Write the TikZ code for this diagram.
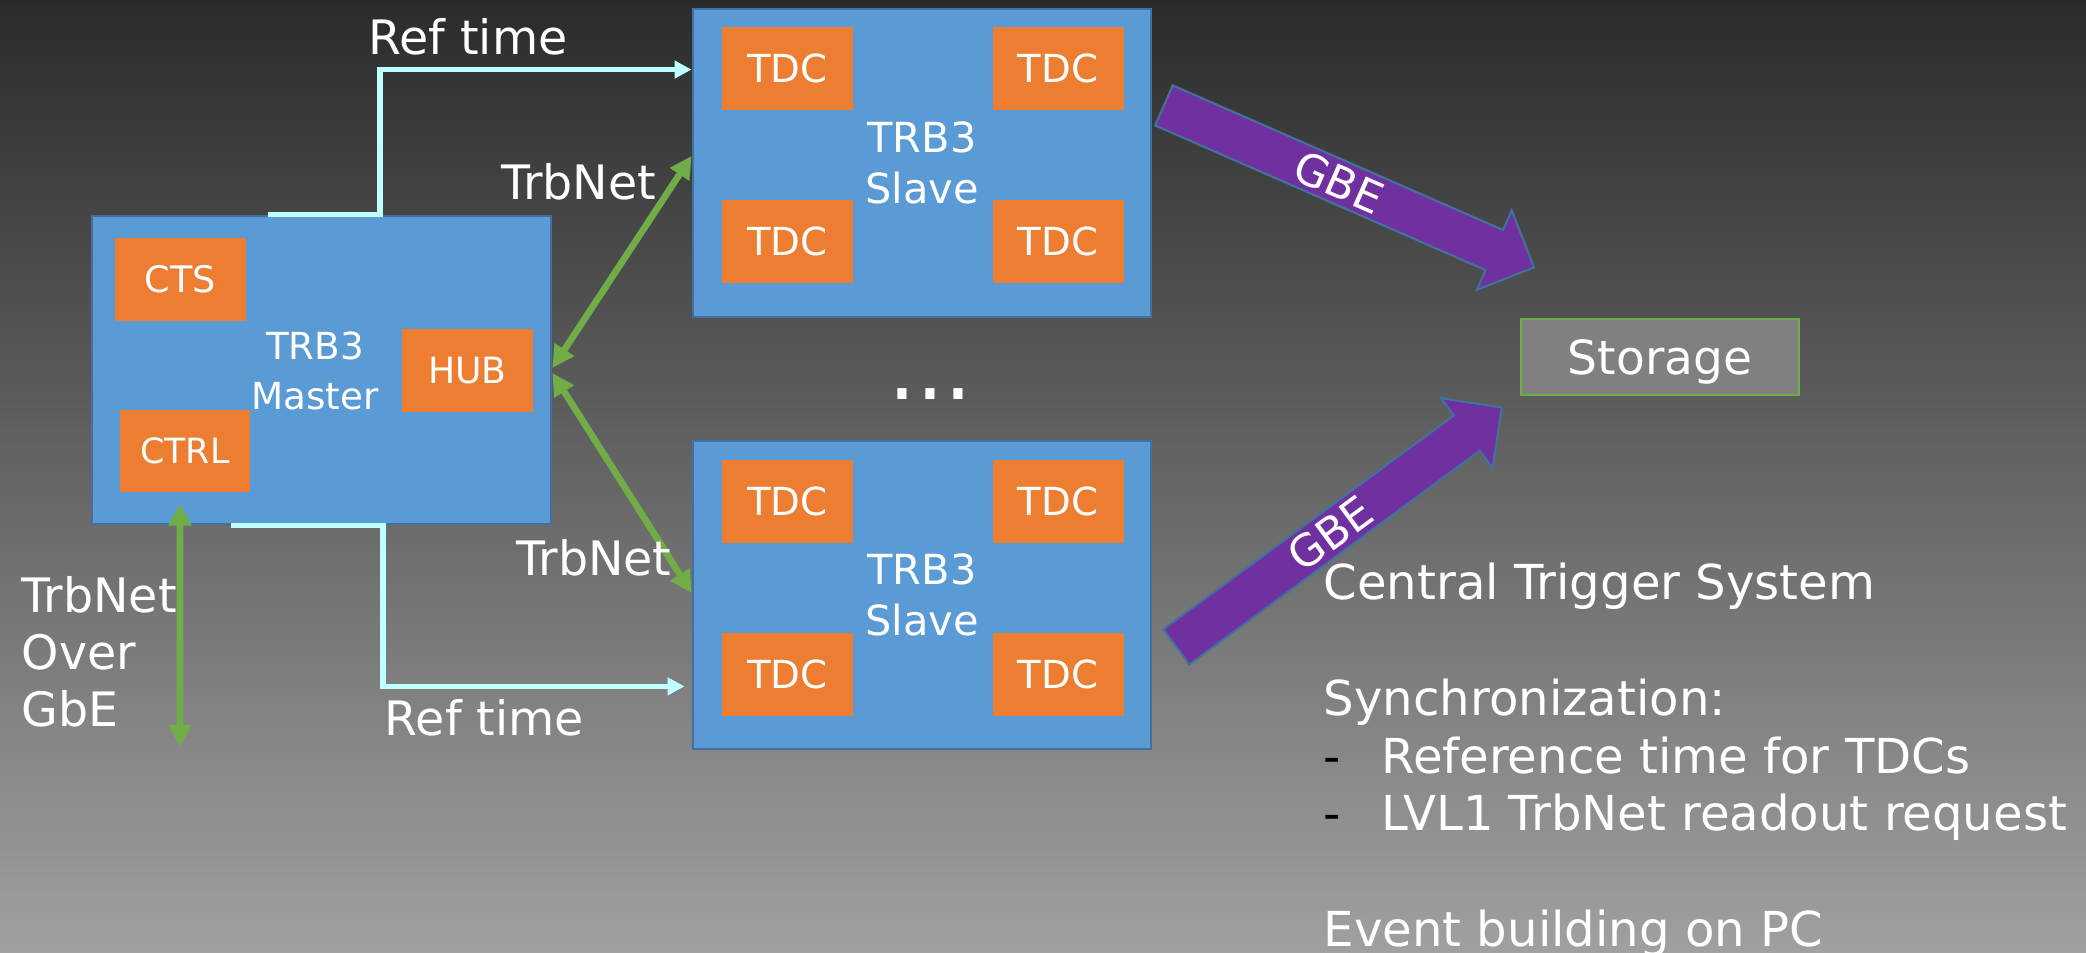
\documentclass[tikz,border=0pt]{standalone}
\usepackage{fontspec}
\setmainfont{DejaVu Sans}
\usetikzlibrary{arrows.meta,positioning,shapes.arrows}

\definecolor{bgtop}{HTML}{2B2B2B}
\definecolor{bgbottom}{HTML}{A0A0A0}
\definecolor{trbblue}{HTML}{5B9BD5}
\definecolor{trbedge}{HTML}{41719C}
\definecolor{tdcorange}{HTML}{ED7D31}
\definecolor{netgreen}{HTML}{70AD47}
\definecolor{gbepurple}{HTML}{7030A0}
\definecolor{refcyan}{HTML}{C0FFFF}
\definecolor{storegray}{HTML}{808080}

\begin{document}
\begin{tikzpicture}[
    boardnode/.style={draw=trbedge, line width=0.8pt, fill=trbblue, minimum width=4.58cm, minimum height=3.08cm, text=white, align=center, font=\fontsize{11.8}{14.5}\selectfont},
    chipnode/.style={fill=tdcorange, minimum width=1.31cm, minimum height=0.83cm, inner sep=0pt, text=white, font=\fontsize{11}{13}\selectfont},
    labelnode/.style={text=white, inner sep=0pt, font=\fontsize{13.5}{16.2}\selectfont},
    reflink/.style={refcyan, line width=1.6pt, -{Triangle[length=0.17cm,width=0.17cm]}},
    netlink/.style={netgreen, line width=1.9pt, {Triangle[length=0.22cm,width=0.22cm]}-{Triangle[length=0.22cm,width=0.22cm]}},
    gbenode/.style={single arrow, draw=trbedge, line width=0.6pt, fill=gbepurple, text=white, anchor=tail, minimum height=4.04cm, single arrow head extend=0.215cm, inner xsep=0pt, inner ysep=0.042cm, font=\fontsize{12.5}{15}\selectfont}
]
% Background
\useasboundingbox (0,0) rectangle (20.86,9.53);
\shade[top color=bgtop, bottom color=bgbottom] (0,0) rectangle (20.86,9.53);

% Master board
\node[boardnode, minimum width=4.59cm] (master) at (3.215,5.83) {};
\node[chipnode, font=\fontsize{10.4}{12}\selectfont] (cts) at (1.805,6.735) {CTS};
\node[chipnode, font=\fontsize{10.3}{12}\selectfont] (hub) at (4.675,5.825) {HUB};
\node[chipnode, minimum width=1.30cm, minimum height=0.82cm, font=\fontsize{9.9}{12}\selectfont] (ctrl) at (1.85,5.02) {CTRL};
\node[labelnode, align=center, font=\fontsize{10.6}{14.2}\selectfont] (masterlabel) at (3.15,5.82) {TRB3\\Master};

% Slave boards
\node[boardnode] (slave1) at (9.22,7.90) {TRB3\\Slave};
\node[chipnode] (tdc1a) at (7.875,8.845) {TDC};
\node[chipnode] (tdc1b) at (10.58,8.845) {TDC};
\node[chipnode] (tdc1c) at (7.875,7.115) {TDC};
\node[chipnode] (tdc1d) at (10.58,7.115) {TDC};

\node[boardnode] (slave2) at (9.22,3.58) {TRB3\\Slave};
\node[chipnode] (tdc2a) at (7.875,4.515) {TDC};
\node[chipnode] (tdc2b) at (10.58,4.515) {TDC};
\node[chipnode] (tdc2c) at (7.875,2.785) {TDC};
\node[chipnode] (tdc2d) at (10.58,2.785) {TDC};

\node[text=white, inner sep=0pt, font=\fontsize{25}{25}\selectfont] (dots) at (9.305,5.59) {...};

% Storage
\node[draw=netgreen, line width=0.8pt, fill=storegray, minimum width=2.78cm, minimum height=0.76cm, text depth=0pt, text=white, font=\fontsize{13.4}{16}\selectfont] (storage) at (16.6,5.96) {Storage};

% Reference time lines
\draw[reflink] ([xshift=-0.535cm]master.north) -- ([xshift=0.585cm]master.north) |- ([yshift=-0.62cm]slave1.north west);
\draw[reflink] ([xshift=-0.905cm]master.south) -- ([xshift=0.615cm]master.south) |- ([xshift=-0.07cm,yshift=0.64cm]slave2.south west);
\node[labelnode] (reftop) at (4.68,9.165) {Ref time};
\node[labelnode] (refbottom) at (4.845,2.355) {Ref time};

% TrbNet links
\draw[netlink] ([yshift=0.02cm]master.east) -- ([yshift=0.07cm]slave1.west);
\draw[netlink] ([yshift=-0.03cm]master.east) -- ([yshift=0.02cm]slave2.west);
\node[labelnode] (nettop) at (5.785,7.715) {TrbNet};
\node[labelnode] (netbottom) at (5.94,3.955) {TrbNet};

\coordinate (gbefree) at (1.80,2.06);
\draw[netlink] ([xshift=-0.05cm,yshift=-0.11cm]ctrl.south) -- (gbefree);
\node[labelnode, align=left, anchor=north west] (gbelabel) at (0.21,3.77) {TrbNet\\Over\\GbE};

% GBE to storage
\node[gbenode, rotate=-23.65] (gbetop) at (11.63,8.48) {GBE};
\node[gbenode, rotate=36.35] (gbebottom) at (11.755,3.055) {GBE};

% Description
\node[labelnode, align=left, anchor=north west, font=\fontsize{13.7}{16.45}\selectfont] (notes) at (13.23,3.906) {Central Trigger System\\[16.45pt]
Synchronization:\\
\makebox[0.58cm][l]{\textcolor{black}{-}}Reference time for TDCs\\
\makebox[0.58cm][l]{\textcolor{black}{-}}LVL1 TrbNet readout request\\[16.45pt]
Event building on PC};

\end{tikzpicture}
\end{document}
